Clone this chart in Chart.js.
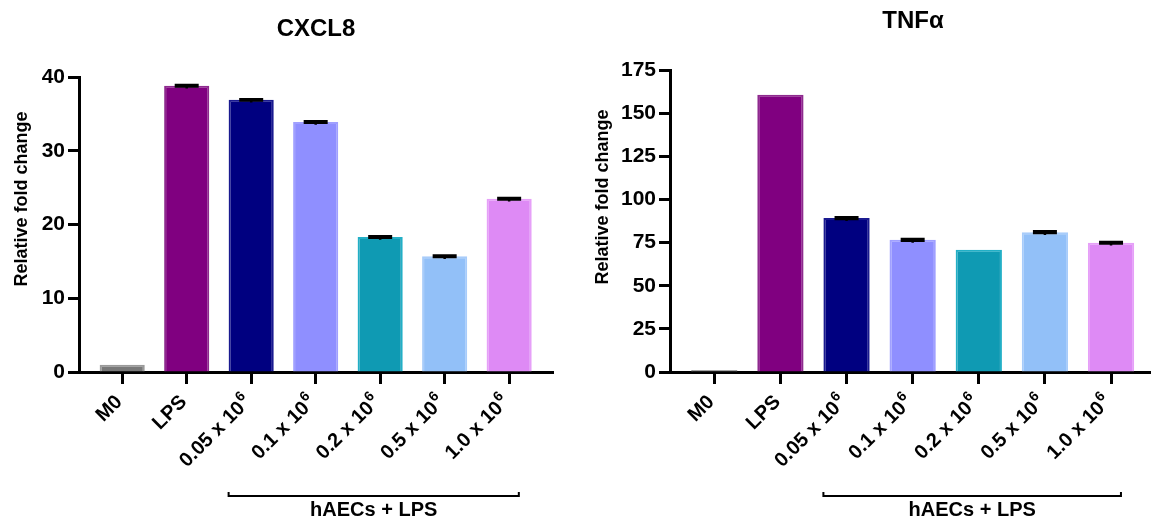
<!DOCTYPE html>
<html>
<head>
<meta charset="utf-8">
<script src="https://cdn.jsdelivr.net/npm/chart.js@4.4.0/dist/chart.umd.min.js"></script>
<style>
  html, body { margin: 0; padding: 0; background: #fff; overflow: hidden; }
  body { width: 1151px; height: 520px; position: relative; }
  canvas { position: absolute; top: 0; }
  #cxcl8 { left: 0; }
  #tnf { left: 590px; }
</style>
</head>
<body>
<canvas id="cxcl8" width="575" height="520"></canvas>
<canvas id="tnf" width="586" height="520"></canvas>
<script>
// Data
const categories = ['M0', 'LPS', '0.05 x 10\u2076', '0.1 x 10\u2076', '0.2 x 10\u2076', '0.5 x 10\u2076', '1.0 x 10\u2076'];
const cxcl8Values = [1.0, 38.8, 36.9, 33.9, 18.3, 15.7, 23.5];
const cxcl8Errors = [0, 0.1, 0.1, 0.1, 0.1, 0.1, 0.1];
const tnfValues = [1.2, 160.6, 89.2, 76.6, 70.8, 81.0, 74.9];
const tnfErrors = [0, 0, 0.5, 0.5, 0, 0.5, 0.5];
const cxcl8Ticks = [0, 10, 20, 30, 40];
const tnfTicks = [0, 25, 50, 75, 100, 125, 150, 175];
const bracketLabel = 'hAECs + LPS';
const yTitle = 'Relative fold change';

const colors = ['#787878', '#800080', '#000080', '#8f8fff', '#0f9ab3', '#92c0f8', '#de8af5'];
const borders = ['#9a9a9a', '#8e2a8e', '#1a1a90', '#a0a0ff', '#22afc6', '#a8ccfa', '#e6a0f8'];

const FONT = "'Liberation Sans', Arial, sans-serif";
const SUP = '\u2076';
const xMin = -0.67, xMax = 6.68;
const bracketFrom = 1.65, bracketTo = 6.15;

// error caps, x labels with real superscripts, rotated y title and the hAECs bracket
const extras = {
  id: 'extras',
  afterDatasetsDraw(chart, args, opts) {
    const ctx = chart.ctx;
    const x = chart.scales.x, y = chart.scales.y;
    const vals = chart.data.datasets[0].data;
    ctx.save();
    ctx.strokeStyle = '#000';
    ctx.lineWidth = 2.5;
    opts.errors.forEach((e, i) => {
      if (!e) return;
      const px = x.getPixelForValue(i);
      const v = vals[i].y;
      const top = y.getPixelForValue(v + e), bot = y.getPixelForValue(v - e);
      ctx.beginPath();
      ctx.moveTo(px - 12, top); ctx.lineTo(px + 12, top);
      ctx.moveTo(px, top); ctx.lineTo(px, bot + 2);
      ctx.moveTo(px - 12, bot); ctx.lineTo(px + 12, bot);
      ctx.stroke();
    });
    ctx.restore();
  },
  afterDraw(chart, args, opts) {
    const ctx = chart.ctx;
    const x = chart.scales.x;
    ctx.save();
    ctx.fillStyle = '#000';

    // x labels, 45 degrees, ending at the tick
    categories.forEach((c, i) => {
      const px = x.getPixelForValue(i);
      ctx.save();
      ctx.translate(px - 3, chart.chartArea.bottom + 27);
      ctx.rotate(-Math.PI / 4);
      ctx.textAlign = 'right';
      ctx.textBaseline = 'middle';
      if (c.endsWith(SUP)) {
        ctx.font = 'bold 14px ' + FONT;
        const ws = ctx.measureText('6').width;
        ctx.fillText('6', 0, -7);
        ctx.font = 'bold 20px ' + FONT;
        ctx.fillText(c.slice(0, -1), -ws - 1, 0);
      } else {
        ctx.font = 'bold 20px ' + FONT;
        ctx.fillText(c, 0, 0);
      }
      ctx.restore();
    });

    // bracket
    const x1 = x.getPixelForValue(bracketFrom), x2 = x.getPixelForValue(bracketTo);
    const by = 496;
    ctx.strokeStyle = '#000';
    ctx.lineWidth = 2;
    ctx.beginPath();
    ctx.moveTo(x1, by - 4); ctx.lineTo(x1, by); ctx.lineTo(x2, by); ctx.lineTo(x2, by - 4);
    ctx.stroke();
    ctx.font = 'bold 20px ' + FONT;
    ctx.textAlign = 'center';
    ctx.textBaseline = 'middle';
    ctx.fillText(bracketLabel, (x1 + x2) / 2, 510);

    // y axis title
    ctx.translate(opts.titleX, opts.titleY);
    ctx.rotate(-Math.PI / 2);
    ctx.font = 'bold 18px ' + FONT;
    ctx.fillText(yTitle, 0, 0);
    ctx.restore();
  }
};

function makeChart(id, title, values, errors, yTicks, o) {
  return new Chart(document.getElementById(id), {
    type: 'bar',
    data: {
      datasets: [{
        data: values.map((v, i) => ({ x: i, y: v })),
        backgroundColor: colors,
        borderColor: borders,
        borderWidth: 2,
        borderSkipped: 'bottom',
        barPercentage: 0.7,
        categoryPercentage: 1
      }]
    },
    options: {
      responsive: false,
      animation: false,
      layout: { padding: { right: o.padRight } },
      plugins: {
        legend: { display: false },
        tooltip: { enabled: false },
        title: {
          display: true,
          text: title,
          fullSize: false,
          color: '#000',
          font: { family: FONT, size: 24, weight: 'bold' },
          padding: { top: o.titleTop, bottom: o.titleBottom }
        },
        extras: { errors: errors, titleX: o.yTitleX, titleY: o.yTitleY }
      },
      scales: {
        x: {
          type: 'linear',
          min: xMin,
          max: xMax,
          offset: false,
          grid: { offset: false, drawOnChartArea: false, tickLength: 12, tickWidth: 3, tickColor: '#000' },
          border: { color: '#000', width: 3 },
          ticks: { display: false, stepSize: 1, includeBounds: false, autoSkip: false },
          afterFit: s => { s.height = 148; }
        },
        y: {
          min: 0,
          max: yTicks[yTicks.length - 1],
          grid: { drawOnChartArea: false, tickLength: 11, tickWidth: 3, tickColor: '#000' },
          border: { color: '#000', width: 3 },
          ticks: {
            stepSize: yTicks[1] - yTicks[0],
            padding: 3,
            color: '#000',
            font: { family: FONT, size: 21, weight: 'bold' }
          },
          afterFit: s => { s.width = o.yWidth; }
        }
      }
    },
    plugins: [extras]
  });
}

makeChart('cxcl8', 'CXCL8', cxcl8Values, cxcl8Errors, cxcl8Ticks, {
  padRight: 22, titleTop: 15.1, titleBottom: 33.1, yWidth: 79, yTitleX: 22, yTitleY: 199
});
makeChart('tnf', 'TNF\u03b1', tnfValues, tnfErrors, tnfTicks, {
  padRight: 20, titleTop: 6.6, titleBottom: 34.6, yWidth: 80, yTitleX: 13, yTitleY: 197
});
</script>
</body>
</html>
